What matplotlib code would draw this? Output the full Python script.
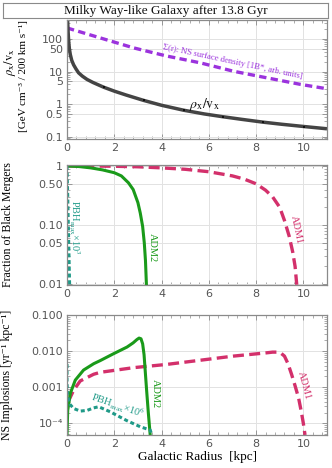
import numpy as np
import matplotlib
matplotlib.use("Agg")
import matplotlib.pyplot as plt
from matplotlib.ticker import AutoMinorLocator, LogLocator, NullFormatter

# ---- data ----
# panel 1: rho_x / v_x  [GeV cm^-3 / 200 km s^-1]
rho_r = [0.01, 0.03, 0.05, 0.07, 0.1, 0.14, 0.2, 0.28, 0.38, 0.49, 0.65, 0.85, 1.1, 1.55,
         2.0, 2.5, 3.24, 4.0, 4.93, 5.8, 6.59, 7.4, 8.28, 9.1, 10.03, 11.0]
rho_val = [1000, 300, 150, 85, 50, 33, 22, 16, 12, 9.1, 7.2, 5.7, 4.6, 3.3,
           2.5, 1.9, 1.3, 0.92, 0.65, 0.5, 0.41, 0.34, 0.28, 0.24, 0.205, 0.175]
rho_dot_r = [1.55, 3.24, 4.93, 6.59, 8.28, 10.03]
rho_dot_val = [3.3, 1.3, 0.65, 0.41, 0.28, 0.205]

# NS surface density (arb. units)
sig_r = [0.0, 1.41, 2.82, 4.2, 5.63, 7.04, 8.45, 9.86, 11.0]
sig_val = [217, 107, 53, 30, 18.5, 10.2, 6.4, 4.05, 2.95]

# panel 2: fraction of black mergers
adm1_f_r = [0.0, 1.0, 2.0, 3.0, 4.0, 5.0, 6.0, 7.0, 7.5, 8.0, 8.4, 8.7, 9.0, 9.2, 9.4,
            9.55, 9.65, 9.72]
adm1_f = [1.0, 1.0, 0.99, 0.97, 0.93, 0.88, 0.8, 0.68, 0.6, 0.5, 0.39, 0.3, 0.2, 0.12,
          0.065, 0.035, 0.02, 0.0098]
adm2_f_r = [0.0, 0.5, 1.0, 1.5, 2.0, 2.3, 2.6, 2.8, 3.0, 3.1, 3.2, 3.27, 3.32, 3.36]
adm2_f = [1.0, 0.98, 0.93, 0.86, 0.77, 0.68, 0.52, 0.40, 0.24, 0.16, 0.095, 0.05, 0.025, 0.0098]
pbh_f_r = [0.0, 0.03, 0.055, 0.08, 0.11]
pbh_f = [1.0, 0.3, 0.1, 0.035, 0.0098]

# panel 3: NS implosions [yr^-1 kpc^-1]
adm2_i_r = [0.0, 0.03, 0.14, 0.35, 0.7, 1.13, 1.41, 1.97, 2.54, 2.8, 2.96, 3.05, 3.13,
            3.2, 3.26, 3.31, 3.37, 3.44, 3.52]
adm2_i = [4.8e-5, 2.3e-4, 6.8e-4, 1.58e-3, 3.0e-3, 4.5e-3, 5.5e-3, 8.5e-3, 0.013, 0.017,
          0.021, 0.023, 0.022, 0.016, 0.008, 2.8e-3, 8e-4, 2e-4, 4.8e-5]
adm1_i_r = [0.05, 0.28, 0.56, 1.13, 1.41, 2.82, 4.22, 5.63, 7.04, 8.45, 8.7, 8.9, 9.05, 9.2,
            9.35, 9.5, 9.65, 9.8, 9.92, 10.0, 10.07]
adm1_i = [4e-4, 8.3e-4, 1.5e-3, 2.3e-3, 2.6e-3, 3.5e-3, 4.3e-3, 5.6e-3, 7.3e-3, 9.0e-3,
          9.4e-3, 9.4e-3, 8.8e-3, 7.3e-3, 4.5e-3, 2.3e-3, 1.1e-3, 5e-4, 2e-4, 1e-4, 4.8e-5]
pbh_i_r = [0.0, 0.0, 0.03, 0.14, 0.28, 0.56, 0.85, 1.13, 1.34, 1.83, 2.53, 3.1, 3.52, 3.56]
pbh_i = [4.4e-3, 1.3e-3, 5.5e-4, 3.3e-4, 2.6e-4, 2.2e-4, 2.3e-4, 2.7e-4, 2.9e-4, 2.1e-4,
         1.2e-4, 8.1e-5, 6.6e-5, 5.5e-5]

xticks = [0, 2, 4, 6, 8, 10]
y1_ticks = [0.1, 0.5, 1, 5, 10, 50, 100]
y1_labels = ["0.1", "0.5", "1", "5", "10", "50", "100"]
y2_ticks = [0.01, 0.05, 0.1, 0.5, 1]
y2_labels = ["0.01", "0.05", "0.10", "0.50", "1"]
y3_ticks = [1e-4, 1e-3, 1e-2, 1e-1]
y3_labels = ["10⁻⁴", "0.001", "0.010", "0.100"]

# ---- style ----
serif = ["Liberation Serif", "DejaVu Serif"]
plt.rcParams["mathtext.fontset"] = "stix"
plt.rcParams["font.family"] = ["DejaVu Sans"]
frame_c = "#8a8a8a"
grid_c = "#e2e2e2"
tick_c = "#555555"
black_c = "#444444"
purple_c = "#9b33dd"
red_c = "#d3306b"
green_c = "#1a9a1a"
teal_c = "#1f9a88"

fig = plt.figure(figsize=(3.32, 4.68), dpi=100)
W, H = 332, 468


def make_ax(top, bottom):
    ax = fig.add_axes([67 / W, 1 - bottom / H, 260 / W, (bottom - top) / H])
    ax.set_yscale("log")
    ax.set_xlim(0, 11)
    ax.set_xticks(xticks)
    ax.xaxis.set_minor_locator(AutoMinorLocator(5))
    ax.yaxis.set_minor_locator(LogLocator(base=10, subs=np.arange(2, 10)))
    ax.yaxis.set_minor_formatter(NullFormatter())
    ax.tick_params(which="both", direction="in", top=True, right=True, color=frame_c)
    ax.tick_params(which="major", length=3.5, width=0.6, labelsize=8, labelcolor=tick_c, pad=3)
    ax.tick_params(which="minor", length=2, width=0.5)
    for s in ax.spines.values():
        s.set_color(frame_c)
        s.set_linewidth(0.9)
    ax.grid(True, which="major", color=grid_c, lw=0.7)
    ax.set_axisbelow(True)
    return ax


# title box
tax = fig.add_axes([3 / W, 1 - 18 / H, 325 / W, 15 / H])
tax.set_xticks([])
tax.set_yticks([])
for s in tax.spines.values():
    s.set_color(frame_c)
tax.text(0.5, 0.45, "Milky Way-like Galaxy after 13.8 Gyr", ha="center", va="center",
         fontsize=9.5, family=serif, color="#111111", transform=tax.transAxes)

# panel 1
ax1 = make_ax(20, 139)
ax1.set_ylim(0.085, 380)
ax1.set_yticks(y1_ticks)
ax1.set_yticklabels(y1_labels)
ax1.plot(sig_r, sig_val, color=purple_c, lw=2.4, dashes=(2.2, 1.3))
ax1.plot(rho_r, rho_val, color=black_c, lw=2.5, solid_capstyle="butt")
ax1.plot(rho_dot_r, rho_dot_val, "s", color="#111111", ms=1.6, mew=0)
ax1.text(5.8, 0.95, r"$\rho_\mathrm{x}/\mathrm{v}_\mathrm{x}$", fontsize=10, color="#111111",
         ha="center", va="center")
ax1.text(7.0, 19.5, "Σ(r): NS surface density [1B*, arb. units]", fontsize=6.2, family=serif,
         color=purple_c, ha="center", va="center", rotation=-12)
fig.text(10 / W, 1 - 62 / H, r"$\rho_\mathrm{x}/\mathrm{v}_\mathrm{x}$", rotation=90,
         fontsize=9, ha="center", va="center")
fig.text(24 / W, 1 - 76 / H, "[GeV cm⁻³ / 200 km s⁻¹]", rotation=90, fontsize=8,
         family=serif, ha="center", va="center")

# panel 2
ax2 = make_ax(165, 285)
ax2.set_ylim(0.0097, 1.04)
ax2.set_yticks(y2_ticks)
ax2.set_yticklabels(y2_labels)
ax2.plot(adm1_f_r, adm1_f, color=red_c, lw=2.4, dashes=(3.3, 1.6))
ax2.plot(adm2_f_r, adm2_f, color=green_c, lw=2.2)
ax2.plot(pbh_f_r, pbh_f, color=teal_c, lw=2.2, dashes=(1.3, 0.9))
ax2.text(0.3, 0.09, r"PBH$_\mathrm{max}$×10$^3$", rotation=-90, fontsize=7.5, family=serif,
         color=teal_c, ha="center", va="center")
ax2.text(3.62, 0.042, "ADM2", rotation=-90, fontsize=7.5, family=serif, color=green_c,
         ha="center", va="center")
ax2.text(9.7, 0.085, "ADM1", rotation=-78, fontsize=7.5, family=serif, color=red_c,
         ha="center", va="center")
fig.text(8 / W, 1 - 225 / H, "Fraction of Black Mergers", rotation=90, fontsize=8.5,
         family=serif, ha="center", va="center")

# panel 3
ax3 = make_ax(315, 435)
ax3.set_ylim(4.8e-5, 0.1)
ax3.set_yticks(y3_ticks)
ax3.set_yticklabels(y3_labels)
ax3.plot(adm1_i_r, adm1_i, color=red_c, lw=2.4, dashes=(3.3, 1.6))
ax3.plot(adm2_i_r, adm2_i, color=green_c, lw=2.2)
ax3.plot(pbh_i_r, pbh_i, color=teal_c, lw=2.2, dashes=(1.3, 0.9))
ax3.text(2.15, 3.0e-4, r"PBH$_\mathrm{max}$×10$^6$", rotation=-19, fontsize=7.5, family=serif,
         color=teal_c, ha="center", va="center")
ax3.text(3.75, 6.7e-4, "ADM2", rotation=-90, fontsize=7.5, family=serif, color=green_c,
         ha="center", va="center")
ax3.text(10.05, 1.15e-3, "ADM1", rotation=-75, fontsize=7.5, family=serif, color=red_c,
         ha="center", va="center")
fig.text(7 / W, 1 - 375 / H, "NS Implosions [yr⁻¹ kpc⁻¹]", rotation=90, fontsize=8.5,
         family=serif, ha="center", va="center")
fig.text(197 / W, 1 - 457 / H, "Galactic Radius  [kpc]", fontsize=9.5, family=serif,
         ha="center", va="center")

fig.savefig("out.png", dpi=100)
